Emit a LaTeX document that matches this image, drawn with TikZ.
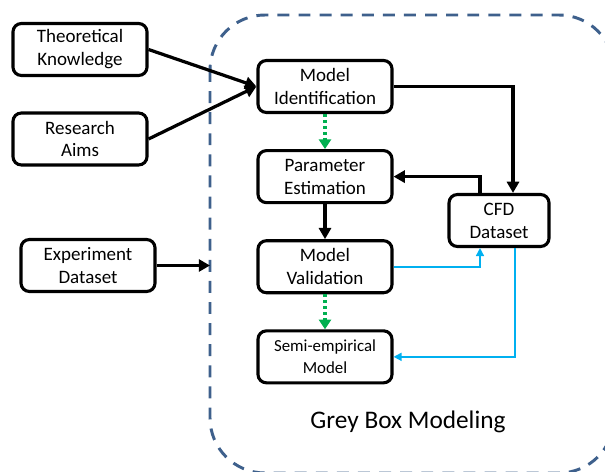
\documentclass[tikz,border=0pt]{standalone}
\usepackage{fontspec}
\setmainfont{Carlito}
\usepackage{xcolor}
\usetikzlibrary{positioning,arrows.meta}
\definecolor{framecol}{RGB}{62,96,140}
\definecolor{dotgreen}{RGB}{0,176,80}
\definecolor{lineblue}{RGB}{0,176,240}
\tikzset{
  blk/.style={draw, line width=2.2pt, rounded corners=6pt, minimum height=13mm, minimum width=3.35cm, align=center, font=\fontsize{13.5}{16.3}\selectfont},
  arr/.style={-{Triangle[length=2.8mm, width=3mm]}, line width=2.3pt},
  gdot/.style={-{Triangle[length=2.4mm, width=3mm]}, line width=2.3pt, dotgreen, dash pattern=on 2.2pt off 2pt},
  blu/.style={-{Triangle[length=2mm, width=2mm]}, line width=1.1pt, lineblue},
}

\begin{document}
\begin{tikzpicture}[x=0.025cm, y=-0.025cm, node distance=8.75mm]
\useasboundingbox (0,0) rectangle (605,472);
% grey box frame
\begin{scope}
\clip (0,0) rectangle (605,472);
\draw[framecol, line width=2.1pt, dash pattern=on 8.5pt off 6.5pt, rounded corners=1.375cm] (210,15) rectangle (614,473);
\end{scope}
% inputs
\node[blk] (theo) at (80,49.5) {Theoretical\\Knowledge};
\node[blk] (aims) at (80,139) {Research\\Aims};
\node[blk] (exp) at (88,265.5) {Experiment\\Dataset};
\coordinate (expin) at (210,265.5);
% grey box steps
\node[blk] (ident) at (325,86.5) {Model\\Identification};
\node[blk, below=of ident] (param) {Parameter\\Estimation};
\node[blk, below=of param] (valid) {Model\\Validation};
\node[blk, below=of valid, font=\fontsize{12}{15.5}\selectfont] (semi) {Semi-empirical\\Model};
\node[blk, minimum width=2.5cm] (cfd) at (499,220.5) {CFD\\Dataset};
\node[font=\fontsize{18}{20}\selectfont] (gbm) at (408,422) {Grey Box Modeling};
\draw[arr] (theo.east) -- (ident.west);
\draw[arr] (aims.east) -- (ident.west);
\draw[arr] (exp.east) -- (expin);
\draw[arr] (ident.east) -| ([xshift=0.35cm]cfd.north);
\draw[arr] ([xshift=-0.475cm]cfd.north) |- (param.east);
\draw[arr] (param) -- (valid);
\draw[gdot] (ident) -- (param);
\draw[gdot] (valid) -- (semi);
\draw[blu] (valid.east) -| ([xshift=-0.475cm]cfd.south);
\draw[blu] ([xshift=0.4cm]cfd.south) |- (semi.east);
\end{tikzpicture}
\end{document}
